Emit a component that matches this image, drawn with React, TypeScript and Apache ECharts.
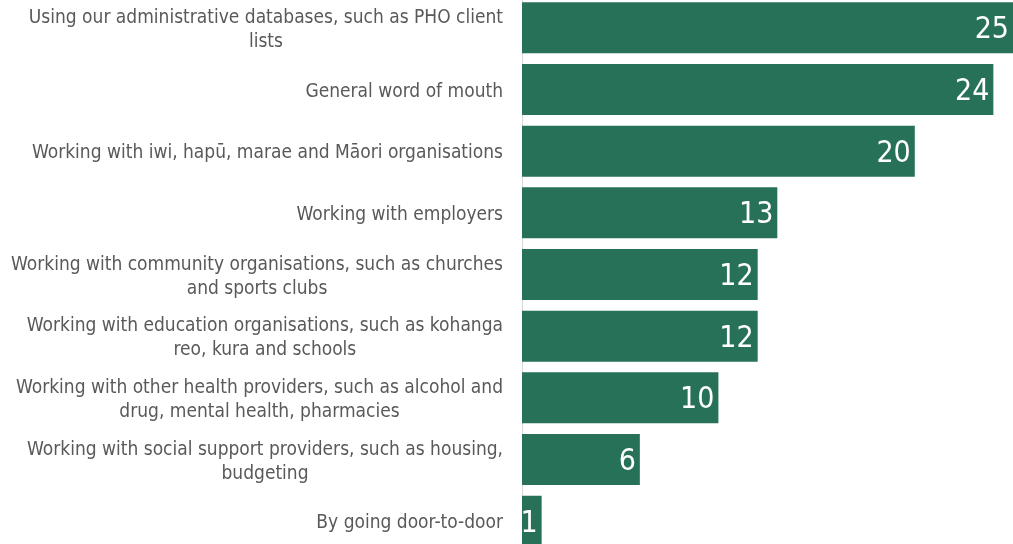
import React, { useEffect, useRef } from "react";
import * as echarts from "echarts";

const categories: string[] = [
  "Using our administrative databases, such as PHO client\nlists",
  "General word of mouth",
  "Working with iwi, hapū, marae and Māori organisations",
  "Working with employers",
  "Working with community organisations, such as churches\nand sports clubs",
  "Working with education organisations, such as kohanga\nreo, kura and schools",
  "Working with other health providers, such as alcohol and\ndrug, mental health, pharmacies",
  "Working with social support providers, such as housing,\nbudgeting",
  "By going door-to-door",
];
const values: number[] = [25, 24, 20, 13, 12, 12, 10, 6, 1];

const FONT = "'Liberation Sans Narrow', 'DejaVu Sans Condensed', 'Arial Narrow', sans-serif";

export default function App() {
  const ref = useRef<HTMLDivElement>(null);
  useEffect(() => {
    if (!ref.current) return;
    const chart = echarts.init(ref.current, undefined, { renderer: "svg" });
    chart.setOption({
      animation: false,
      grid: { left: 522, right: 0, top: 0, bottom: 0, containLabel: false },
      xAxis: {
        type: "value",
        min: 0,
        max: 25,
        show: false,
      },
      yAxis: {
        type: "category",
        data: categories,
        inverse: true,
        axisLine: { show: true, lineStyle: { color: "#d9d9d9", width: 1 } },
        axisTick: { show: false },
        axisLabel: {
          margin: 19,
          align: "right",
          formatter: (v: string) =>
            v.split("\n").map((l) => `{c|${l}}`).join("\n"),
          rich: {
            c: {
              align: "center",
              fontFamily: FONT,
              fontSize: 19,
              lineHeight: 24,
              color: "#595959",
            },
          },
        },
      },
      series: [
        {
          type: "bar",
          data: values,
          barWidth: 51,
          itemStyle: { color: "#277159" },
          label: {
            show: true,
            position: "insideRight",
            distance: 4,
            color: "#ffffff",
            fontFamily: FONT,
            fontSize: 30,
          },
        },
      ],
    });
    return () => chart.dispose();
  }, []);
  return (
    <div
      style={{
        position: "fixed",
        left: 0,
        top: 0,
        width: 1013,
        height: 544,
        overflow: "hidden",
      }}
    >
      <div
        ref={ref}
        style={{ position: "absolute", left: 0, top: -3, width: 1013, height: 555 }}
      />
    </div>
  );
}
